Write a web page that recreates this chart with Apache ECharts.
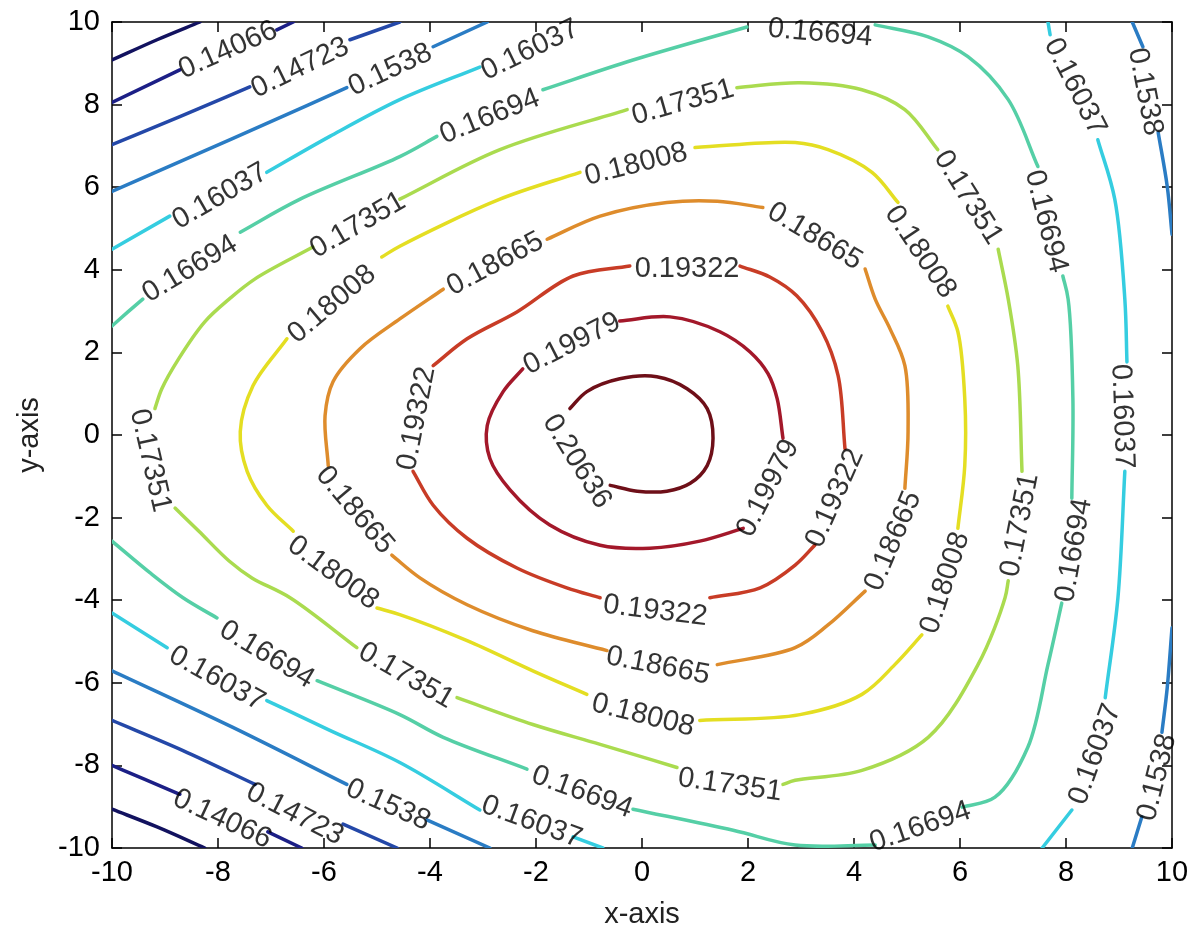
<!DOCTYPE html>
<html>
<head>
<meta charset="utf-8">
<script src="https://cdn.jsdelivr.net/npm/echarts@6/dist/echarts.min.js"></script>
<style>
  html, body { margin: 0; padding: 0; background: #fff; }
  #chart { width: 1195px; height: 934px; }
</style>
</head>
<body>
<div id="chart"></div>
<script>
// contour levels and their jet-style colours
const levels = [0.13409, 0.14066, 0.14723, 0.1538, 0.16037, 0.16694, 0.17351, 0.18008, 0.18665, 0.19322, 0.19979, 0.20636];
const levelColors = ['#12125f', '#1c1f86', '#2448a8', '#2a7cc4', '#35cde0', '#55cfa6', '#aadb4f', '#e4de22', '#de8c2c', '#c83c26', '#a3182a', '#6e0f18'];

// each contour is a list of [x, y] polylines, broken where an inline label sits
const c13409 = [
  [[-10, 9.08], [-9.15, 9.57], [-8.34, 10]],
  [[-10, -9.06], [-9.15, -9.49], [-8.25, -10]]
];
const c14066 = [
  [[-10, 8.05], [-8.72, 8.84]],
  [[-6.89, 9.81], [-6.58, 10]],
  [[-10, -8.0], [-9.38, -8.34], [-8.72, -8.70]],
  [[-7.06, -9.61], [-6.42, -10]]
];
const c14723 = [
  [[-10, 7.03], [-8.72, 7.71], [-7.40, 8.43]],
  [[-5.51, 9.57], [-4.57, 10]],
  [[-10, -6.91], [-8.66, -7.64], [-7.30, -8.46]],
  [[-5.64, -9.42], [-4.62, -10]]
];
const c15380 = [
  [[-10, 5.90], [-7.77, 7.15], [-5.57, 8.41]],
  [[-3.94, 9.40], [-2.92, 10]],
  [[9.25, 10], [9.45, 9.40]],
  [[9.74, 7.32], [9.91, 6.02], [10, 4.86]],
  [[10, -4.67], [9.91, -6.12], [9.81, -7.20]],
  [[9.43, -9.25], [9.25, -10]],
  [[-10, -5.71], [-7.72, -7.08], [-5.57, -8.46]],
  [[-4.06, -9.32], [-2.87, -10]]
];
const c16037 = [
  [[-10, 4.50], [-8.91, 5.30]],
  [[-7.08, 6.36], [-5.89, 7.23], [-4.57, 8.12], [-3.06, 8.91]],
  [[7.66, 10], [7.70, 9.69]],
  [[8.60, 7.15], [8.92, 5.71], [9.11, 3.29], [9.15, 1.77]],
  [[9.11, -0.88], [8.98, -3.94], [8.74, -6.36]],
  [[8.11, -9.08], [7.55, -10]],
  [[-10, -4.31], [-8.96, -5.15]],
  [[-7.08, -6.43], [-5.89, -7.15], [-4.57, -7.93], [-3.06, -9.08]],
  [[-1.30, -9.73], [-0.74, -10]]
];
const c16694 = [
  [[-10, 2.64], [-9.70, 2.98], [-9.42, 3.29]],
  [[-7.58, 4.91], [-6.45, 5.71], [-4.57, 6.74], [-3.87, 7.23]],
  [[-1.87, 8.36], [-0.17, 9.08], [1.98, 9.88]],
  [[4.40, 9.93], [5.40, 9.64], [6.15, 9.16], [6.91, 8.12], [7.47, 6.50]],
  [[7.94, 3.85], [8.04, 3.29], [8.13, 0.88], [8.11, -1.53]],
  [[7.92, -4.07], [7.66, -5.56], [7.28, -7.56], [6.66, -8.77], [6.04, -9.01]],
  [[4.40, -9.93], [2.89, -9.93], [1.72, -9.57], [-0.17, -9.06]],
  [[-2.17, -8.09], [-3.75, -7.32], [-4.57, -6.77], [-6.13, -5.95]],
  [[-8.02, -4.43], [-8.66, -3.94], [-9.28, -3.34], [-10, -2.57]]
];
const c17351 = [
  [[-4.57, 5.71], [-2.68, 6.91], [-0.28, 7.88]],
  [[1.79, 8.41], [2.98, 8.53], [4.15, 8.36], [4.96, 7.88], [5.58, 6.91]],
  [[6.72, 4.50], [6.91, 3.29], [7.09, 1.68], [7.17, -0.88]],
  [[6.91, -3.53], [6.85, -3.94], [6.34, -5.56], [5.40, -7.32], [4.15, -8.12], [2.89, -8.36], [2.66, -8.46]],
  [[0.66, -8.05], [-0.79, -7.49], [-2.06, -7.01], [-3.49, -6.36]],
  [[-5.38, -5.15], [-6.64, -3.94], [-7.36, -3.46], [-7.79, -3.05], [-8.36, -2.33], [-8.81, -1.77]],
  [[-9.19, 0.64], [-9.06, 1.12], [-8.74, 1.85], [-8.25, 2.74], [-7.79, 3.29], [-7.30, 3.78], [-6.21, 4.55]]
];
const c18008 = [
  [[-6.70, 2.33], [-7.34, 1.19], [-7.58, 0.08], [-7.45, -0.88], [-7.08, -1.70], [-6.58, -2.33]],
  [[-5.00, -4.19], [-4.57, -4.35], [-3.30, -4.98], [-2.06, -5.71], [-1.04, -6.28]],
  [[1.09, -6.91], [2.98, -6.77], [4.15, -6.28], [4.77, -5.56], [5.28, -4.84]],
  [[5.96, -2.26], [6.09, -0.74], [6.09, 0.88], [5.96, 2.50], [5.77, 3.12]],
  [[4.83, 5.63], [4.34, 6.36], [3.51, 6.91], [2.89, 7.08], [1.00, 6.96]],
  [[-1.17, 6.36], [-2.68, 5.71], [-4.57, 4.57], [-4.91, 4.31]]
];
const c18665 = [
  [[-1.79, 4.74], [-0.79, 5.30], [0.47, 5.63], [1.42, 5.66], [2.28, 5.51]],
  [[4.21, 4.02], [4.40, 3.29], [4.68, 2.57], [4.96, 1.68], [5.02, 0.08], [4.96, -1.29]],
  [[4.21, -3.78], [3.51, -4.60], [2.89, -5.15], [1.42, -5.56]],
  [[-0.66, -5.22], [-2.06, -4.74], [-3.30, -4.11], [-4.19, -3.46], [-4.72, -2.91]],
  [[-5.92, -0.74], [-5.98, 0.47], [-5.83, 1.29], [-5.32, 2.09], [-4.57, 2.81], [-3.75, 3.53]]
];
const c19322 = [
  [[-3.94, 1.68], [-3.30, 2.33], [-2.36, 2.98], [-1.30, 3.85], [-0.23, 4.09]],
  [[1.85, 4.09], [2.42, 3.82], [2.92, 3.37], [3.40, 2.50], [3.70, 1.44], [3.83, -0.33]],
  [[3.26, -2.67], [2.89, -3.15], [2.23, -3.70], [1.28, -3.94]],
  [[-0.79, -3.94], [-1.42, -3.70], [-2.36, -3.22], [-3.30, -2.50], [-3.94, -1.70], [-4.32, -0.88]]
];
const c19979 = [
  [[-0.42, 2.76], [0.53, 2.86], [1.47, 2.50], [2.04, 2.01], [2.38, 1.48], [2.55, 0.88], [2.66, -0.08]],
  [[1.91, -2.26], [1.09, -2.57], [0.15, -2.74], [-0.79, -2.67], [-1.74, -2.18], [-2.49, -1.33],
   [-2.87, -0.57], [-2.92, 0.23], [-2.62, 1.05], [-2.25, 1.60]]
];
const c20636 = [
  [[-1.36, 0.64], [-1.04, 1.05], [-0.42, 1.36], [0.28, 1.41], [0.85, 1.12], [1.23, 0.64],
   [1.34, -0.08], [1.23, -0.74], [0.91, -1.17], [0.47, -1.36], [-0.09, -1.36], [-0.60, -1.22]]
];
const contours = [c13409, c14066, c14723, c15380, c16037, c16694, c17351, c18008, c18665, c19322, c19979, c20636];

// inline contour labels: [level index, x, y, rotation in degrees]
const contourLabels = [
  [1, -7.81, 9.32, 24], [2, -6.45, 8.89, 26], [3, -4.75, 8.84, 25], [4, -2.11, 9.32, 26],
  [5, -2.87, 7.71, 22], [6, 0.77, 8.05, 16], [7, -0.11, 6.55, 14], [8, -2.77, 4.14, 28],
  [9, 0.85, 4.02, 0], [10, -1.32, 2.21, 27], [11, -1.23, -0.64, -58], [9, -4.25, 0.40, 79],
  [8, -5.42, -1.82, -50], [7, -5.83, -3.34, -36], [6, -9.28, -0.62, -77], [5, -8.53, 4.02, 31],
  [4, -7.96, 5.78, 30], [6, -5.36, 5.08, 30], [7, -5.85, 3.17, 40], [9, 3.64, -1.53, 66],
  [10, 2.38, -1.29, 63], [8, 4.74, -2.57, 67], [7, 5.72, -3.58, 72], [6, 7.13, -2.18, 79],
  [5, 8.15, -2.79, 80], [4, 9.06, 0.45, -88], [3, 9.49, 8.31, -79], [4, 8.17, 8.43, -63],
  [5, 7.62, 5.17, -76], [6, 6.15, 5.75, -58], [7, 5.25, 4.43, -56], [8, 3.26, 4.81, -31],
  [5, 3.36, 9.73, -5], [4, 8.55, -7.73, 70], [3, 9.72, -8.29, 76], [5, 5.25, -9.49, 19],
  [6, 1.66, -8.48, -8], [7, 0.02, -6.79, -14], [8, 0.30, -5.59, -11], [9, 0.25, -4.26, -7],
  [5, -1.13, -8.65, -20], [6, -4.45, -5.83, -30], [5, -7.08, -5.32, -31], [4, -8.02, -5.90, -29],
  [4, -2.08, -9.37, -20], [3, -4.79, -8.96, -24], [2, -6.55, -9.18, -27], [1, -7.92, -9.30, -25]
];

const FONT = '"Liberation Sans", Arial, Helvetica, sans-serif';

// flatten every contour piece, remembering which level it belongs to
const pieces = [];
contours.forEach((segs, li) => segs.forEach(pts => pieces.push({ li, pts })));

// centripetal Catmull-Rom curve through pixel points, as SVG path data
function splinePath(p) {
  const n = p.length;
  let d = 'M' + p[0][0] + ',' + p[0][1];
  if (n === 2) return d + 'L' + p[1][0] + ',' + p[1][1];
  const ext = [[2 * p[0][0] - p[1][0], 2 * p[0][1] - p[1][1]]]
    .concat(p, [[2 * p[n - 1][0] - p[n - 2][0], 2 * p[n - 1][1] - p[n - 2][1]]]);
  const dist = (a, b) => Math.max(Math.sqrt(Math.hypot(b[0] - a[0], b[1] - a[1])), 1e-4);
  for (let i = 1; i < ext.length - 2; i++) {
    const P0 = ext[i - 1], P1 = ext[i], P2 = ext[i + 1], P3 = ext[i + 2];
    const d1 = dist(P0, P1), d2 = dist(P1, P2), d3 = dist(P2, P3);
    const b1 = [0, 1].map(k => (d1 * d1 * P2[k] - d2 * d2 * P0[k] + (2 * d1 * d1 + 3 * d1 * d2 + d2 * d2) * P1[k]) / (3 * d1 * (d1 + d2)));
    const b2 = [0, 1].map(k => (d3 * d3 * P1[k] - d2 * d2 * P3[k] + (2 * d3 * d3 + 3 * d3 * d2 + d2 * d2) * P2[k]) / (3 * d3 * (d3 + d2)));
    d += 'C' + b1[0] + ',' + b1[1] + ' ' + b2[0] + ',' + b2[1] + ' ' + P2[0] + ',' + P2[1];
  }
  return d;
}

const contourSeries = {
  type: 'custom',
  coordinateSystem: 'cartesian2d',
  silent: true,
  clip: true,
  z: 2,
  encode: { x: 0, y: 1 },
  data: pieces.map(pc => pc.pts[0]),
  renderItem: (params, api) => {
    const pc = pieces[params.dataIndex];
    const px = pc.pts.map(pt => api.coord(pt));
    return {
      type: 'path',
      shape: { pathData: splinePath(px) },
      style: { stroke: levelColors[pc.li], lineWidth: 3.5, fill: 'none', lineCap: 'round', lineJoin: 'round' }
    };
  }
};

const labelSeries = {
  type: 'scatter',
  symbolSize: 0,
  silent: true,
  z: 5,
  data: contourLabels.map(([li, x, y, a]) => ({
    name: String(levels[li]),
    value: [x, y],
    label: { rotate: a }
  })),
  label: {
    show: true,
    position: 'inside',
    formatter: '{b}',
    color: '#000',
    fontSize: 29,
    fontFamily: FONT
  }
};

function boxAxis(pos, extra) {
  return Object.assign({
    type: 'value',
    min: -10,
    max: 10,
    interval: 2,
    position: pos,
    axisLine: { show: true, onZero: false, lineStyle: { color: '#000', width: 1.5 } },
    axisTick: { show: true, inside: true, length: 10, lineStyle: { color: '#000', width: 1.5 } },
    splitLine: { show: false },
    axisLabel: { show: false }
  }, extra);
}

const chart = echarts.init(document.getElementById('chart'), null, { renderer: 'canvas' });
chart.setOption({
  animation: false,
  backgroundColor: '#fff',
  grid: { left: 112, top: 22, width: 1060, height: 829, containLabel: false },
  xAxis: [
    boxAxis('bottom', {
      axisLabel: { show: true, color: '#000', fontSize: 29, fontFamily: FONT, margin: 10 },
      name: 'x-axis', nameLocation: 'middle', nameGap: 52,
      nameTextStyle: { color: '#222', fontSize: 29, fontFamily: FONT }
    }),
    boxAxis('top')
  ],
  yAxis: [
    boxAxis('left', {
      axisLabel: { show: true, color: '#000', fontSize: 29, fontFamily: FONT, margin: 12 },
      name: 'y-axis', nameLocation: 'middle', nameGap: 68, nameRotate: 90,
      nameTextStyle: { color: '#222', fontSize: 29, fontFamily: FONT }
    }),
    boxAxis('right')
  ],
  series: [contourSeries, labelSeries]
});
</script>
</body>
</html>
